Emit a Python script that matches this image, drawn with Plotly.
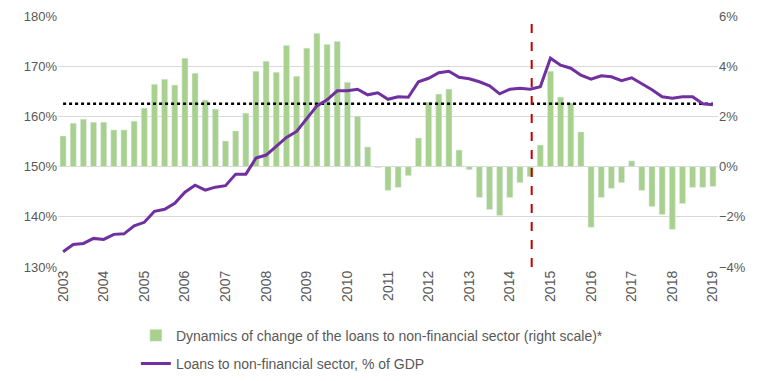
import plotly.graph_objects as go

years = ["2003", "2004", "2005", "2006", "2007", "2008", "2009", "2010", "2011",
         "2012", "2013", "2014", "2015", "2016", "2017", "2018", "2019"]
quarters = [f"{y}Q{q}" for y in years for q in (1, 2, 3, 4)][:65]

# Dynamics of change of loans (right scale, %)
bar_values = [1.22, 1.73, 1.89, 1.77, 1.77, 1.46, 1.46, 1.81, 2.33, 3.28, 3.48, 3.25, 4.32, 3.72,
              2.65, 2.29, 1.02, 1.42, 2.13, 3.80, 4.20, 3.76, 4.83, 3.60, 4.72, 5.31, 4.87, 4.99,
              3.36, 2.01, 0.78, -0.04, -0.95, -0.83, -0.36, 1.14, 2.57, 2.89, 3.09, 0.66, -0.12,
              -1.23, -1.71, -1.95, -1.23, -0.64, -0.40, 0.86, 3.80, 2.77, 2.53, 1.38, -2.42, -1.23,
              -0.87, -0.64, 0.23, -0.95, -1.59, -1.91, -2.50, -1.47, -0.83, -0.83, -0.79]

# Loans to non-financial sector, % of GDP (left scale)
line_values = [133.05, 134.5, 134.7, 135.7, 135.5, 136.5, 136.6, 138.2, 138.9, 141.1, 141.5, 142.7,
               144.9, 146.3, 145.3, 145.9, 146.2, 148.5, 148.5, 151.7, 152.3, 154.1, 155.8, 157.0,
               159.6, 162.1, 163.3, 165.1, 165.1, 165.4, 164.3, 164.7, 163.4, 163.9, 163.8, 166.9,
               167.6, 168.7, 169.0, 167.8, 167.5, 166.9, 166.1, 164.5, 165.4, 165.6, 165.4, 165.9,
               171.6, 170.2, 169.6, 168.2, 167.4, 168.1, 167.9, 167.1, 167.7, 166.5, 165.3, 163.9,
               163.6, 163.9, 163.9, 162.5, 162.3]

avg_level = [2.5] * len(quarters)   # dotted reference level (right scale)
break_quarter = "2014Q3"            # red dashed vertical marker

bar_name = "Dynamics of change of the loans to non-financial sector (right scale)*"
line_name = "Loans to non-financial sector, % of GDP"

grey = "#595959"
fig = go.Figure()

fig.add_trace(go.Bar(x=quarters, y=bar_values, name=bar_name, marker_color="#A9D18E",
                     yaxis="y", legendgroup="a"))
fig.add_trace(go.Scatter(x=quarters, y=avg_level, mode="lines", showlegend=False,
                         line=dict(color="black", dash="dot", width=2.5), yaxis="y"))
fig.add_trace(go.Scatter(x=quarters, y=line_values, mode="lines", name=line_name,
                         line=dict(color="#7030A0", width=3), yaxis="y2", legendgroup="b"))

fig.add_shape(type="line", xref="x", yref="paper", x0=quarters.index(break_quarter) + 0.15,
              x1=quarters.index(break_quarter) + 0.15, y0=0, y1=1,
              line=dict(color="#C00000", width=2, dash="dash"), layer="above")

fig.update_layout(
    width=759, height=373,
    margin=dict(l=50, r=49, t=8, b=114, autoexpand=False),
    plot_bgcolor="white", paper_bgcolor="white",
    font=dict(family="Liberation Sans, Arial, sans-serif", size=13, color=grey),
    bargap=0.4,
    showlegend=True,
    legend=dict(x=0.118, y=-0.21, xanchor="left", yanchor="top", orientation="v",
                tracegroupgap=7, font=dict(size=14, color=grey), bgcolor="rgba(0,0,0,0)"),
    xaxis=dict(type="category", range=[-0.5, 64.5], tickmode="array",
               tickvals=[f"{y}Q1" for y in years], ticktext=years, tickangle=-90,
               showgrid=False, showline=False, ticks="", tickfont=dict(size=14, color=grey)),
    yaxis=dict(side="right", range=[-4, 6], dtick=2, tickformat=".0f", ticksuffix="%",
               showgrid=True, gridcolor="#D9D9D9", gridwidth=1, zeroline=False,
               tickfont=dict(size=13, color=grey)),
    yaxis2=dict(side="left", overlaying="y", range=[130, 180], dtick=10, ticksuffix="%",
                showgrid=False, zeroline=False, tickfont=dict(size=13, color=grey)),
)

fig.write_html("out.html")
